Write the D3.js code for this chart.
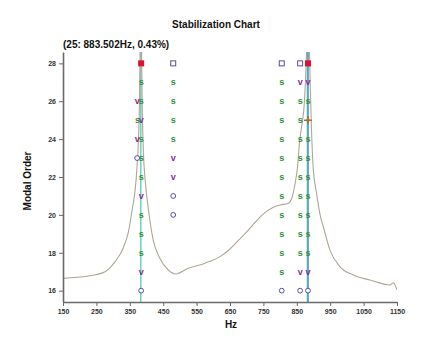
<!DOCTYPE html>
<html>
<head>
<meta charset="utf-8">
<script src="https://cdn.jsdelivr.net/npm/d3@7"></script>
<style>
  body { margin: 0; background: #fff; }
  text { font-family: Arial, "Liberation Sans", sans-serif; }
</style>
</head>
<body>
<div id="chart"></div>
<script>
// chart size
const svgWidth = 428;
const svgHeight = 344;

const margin = { top: 52, right: 31, bottom: 42, left: 63 };
const width = svgWidth - margin.left - margin.right;
const height = svgHeight - margin.top - margin.bottom;

// FRF curve (Hz, value in modal order units)
const curveHz = [150, 226, 276, 306, 330, 346, 357, 366, 371, 375, 379, 381, 383, 385, 387, 391,
  396, 406, 420, 440, 465, 487, 525, 575, 625, 650, 675, 700, 725, 750, 780, 800, 825, 835,
  845, 852, 858, 866, 871, 877, 881, 884, 887, 890, 894, 899, 909, 921, 929, 949, 979, 1019,
  1069, 1129, 1139, 1144, 1150];
const curveVal = [16.65, 16.77, 17.0, 17.53, 18.24, 19.11, 20.26, 21.32, 22.37, 23.6, 26.0, 29.0, 31.0, 29.0, 26.0, 23.2,
  21.85, 20.26, 18.68, 17.71, 17.09, 16.88, 17.18, 17.45, 17.85, 18.2, 18.65, 19.1, 19.6, 20.05, 20.4, 20.52, 20.62, 20.88,
  21.67, 22.5, 23.8, 24.85, 25.54, 27.5, 29.5, 31.0, 29.5, 27.0, 24.5, 22.5, 21.16, 19.9, 19.4, 18.15, 17.27, 16.83,
  16.56, 16.3, 16.42, 16.3, 16.04];

// stabilization columns: frequency and marker per order 16..28
const orders = [16, 17, 18, 19, 20, 21, 22, 23, 24, 25, 26, 27, 28];
const colFreqs = [384, 480, 805, 860, 883.5];
const colMarks = [
  ["o", "v", "s", "s", "s", "v", "s", "s", "s", "v", "s", "s", "R"],
  [null, null, null, null, "o", "o", "v", "v", "s", "s", "s", "s", "q"],
  ["o", "s", "s", "s", "s", "s", "s", "s", "s", "s", "s", "s", "q"],
  ["o", "v", "s", "s", "s", "s", "s", "s", "s", "s", "s", "v", "q"],
  ["o", "v", "s", "s", "s", "s", "s", "s", "s", "+", "s", "v", "R"]
];
// extra markers sitting beside the first column
const extraHz = [372, 372, 373, 372];
const extraOrder = [23, 24, 25, 26];
const extraMark = ["o", "v", "s", "v"];

// selected pole lines
const lineHz = [383, 881.5, 884];
const lineColor = ["#4cc4b0", "#4cc4b0", "#4a8cc4"];

const xTicks = [150, 250, 350, 450, 550, 650, 750, 850, 950, 1050, 1150];
const yTicks = [16, 18, 20, 22, 24, 26, 28];

const svg = d3.select("#chart")
  .append("svg")
  .attr("width", svgWidth)
  .attr("height", svgHeight);

const g = svg.append("g")
  .attr("transform", `translate(${margin.left}, ${margin.top})`);

const x = d3.scaleLinear().domain([150, 1150]).range([0, width]);
const y = d3.scaleLinear().domain([15.4, 28.6]).range([height, 0]);

// clip for curve
svg.append("defs").append("clipPath").attr("id", "clip")
  .append("rect").attr("width", width).attr("height", height);

// vertical lines
g.selectAll(".vline")
  .data(lineHz)
  .enter()
  .append("line")
  .attr("x1", d => x(d))
  .attr("x2", d => x(d))
  .attr("y1", 0)
  .attr("y2", height)
  .attr("stroke", (d, i) => lineColor[i])
  .attr("stroke-width", 1.2);

// FRF curve
const curveData = curveHz.map((h, i) => [h, curveVal[i]]);
g.append("path")
  .datum(curveData)
  .attr("clip-path", "url(#clip)")
  .attr("fill", "none")
  .attr("stroke", "#b0a596")
  .attr("stroke-width", 1.1)
  .attr("d", d3.line().x(d => x(d[0])).y(d => y(d[1])).curve(d3.curveMonotoneX));

// build marker list
const marks = [];
colFreqs.forEach((f, c) => {
  colMarks[c].forEach((m, i) => {
    if (m) marks.push({ hz: f, order: orders[i], type: m });
  });
});
extraHz.forEach((h, i) => marks.push({ hz: h, order: extraOrder[i], type: extraMark[i] }));

function drawMark(sel, d) {
  const cx = x(d.hz), cy = y(d.order);
  if (d.type === "s" || d.type === "v") {
    sel.append("text")
      .attr("x", cx).attr("y", cy + 3)
      .attr("text-anchor", "middle")
      .style("font-size", "9px")
      .style("font-weight", "bold")
      .attr("fill", d.type === "s" ? "#2f8f35" : "#8a2a9c")
      .text(d.type);
  } else if (d.type === "o") {
    sel.append("circle")
      .attr("cx", cx).attr("cy", cy).attr("r", 2.4)
      .attr("fill", "#fff").attr("stroke", "#5050a8").attr("stroke-width", 1);
  } else if (d.type === "q") {
    sel.append("rect")
      .attr("x", cx - 2.5).attr("y", cy - 2.5).attr("width", 5).attr("height", 5)
      .attr("fill", "#fff").attr("stroke", "#5050a8").attr("stroke-width", 1);
  } else if (d.type === "R") {
    sel.append("rect")
      .attr("x", cx - 3).attr("y", cy - 3).attr("width", 6).attr("height", 6)
      .attr("fill", "#e0102a");
  } else if (d.type === "+") {
    sel.append("path")
      .attr("d", `M${cx - 4},${cy}L${cx + 4},${cy}M${cx},${cy - 4}L${cx},${cy + 4}`)
      .attr("stroke", "#a0703a").attr("stroke-width", 1.6);
    sel.append("circle")
      .attr("cx", cx).attr("cy", cy).attr("r", 1.6).attr("fill", "#a0703a");
  }
}

const markGroup = g.append("g");
marks.forEach(d => drawMark(markGroup, d));

// axes
const xAxis = g.append("g")
  .attr("transform", `translate(0, ${height})`)
  .call(d3.axisBottom(x).tickValues(xTicks).tickFormat(d3.format("d"))
    .tickSize(4).tickSizeOuter(0).tickPadding(3));
const yAxis = g.append("g")
  .call(d3.axisLeft(y).tickValues(yTicks).tickSize(4).tickSizeOuter(0).tickPadding(3));

[xAxis, yAxis].forEach(a => {
  a.select(".domain").attr("stroke", "#6a6a6a").attr("stroke-width", 1.6);
  a.selectAll(".tick line").attr("stroke", "#6a6a6a");
  a.selectAll(".tick text")
    .attr("fill", "#333")
    .style("font-size", "7px")
    .style("font-weight", "bold")
    .style("font-family", "Arial, 'Liberation Sans', sans-serif");
});

// titles
svg.append("text")
  .attr("x", 216).attr("y", 28)
  .attr("text-anchor", "middle")
  .style("font-size", "10px").style("font-weight", "bold")
  .attr("fill", "#111")
  .text("Stabilization Chart");

svg.append("text")
  .attr("x", 63).attr("y", 48)
  .style("font-size", "10px").style("font-weight", "bold")
  .attr("fill", "#111")
  .text("(25: 883.502Hz, 0.43%)");

svg.append("text")
  .attr("transform", "translate(31, 181) rotate(-90)")
  .attr("text-anchor", "middle")
  .style("font-size", "10px").style("font-weight", "bold")
  .attr("fill", "#111")
  .text("Modal Order");

svg.append("text")
  .attr("x", 231).attr("y", 328)
  .attr("text-anchor", "middle")
  .style("font-size", "10px").style("font-weight", "bold")
  .attr("fill", "#111")
  .text("Hz");
</script>
</body>
</html>
